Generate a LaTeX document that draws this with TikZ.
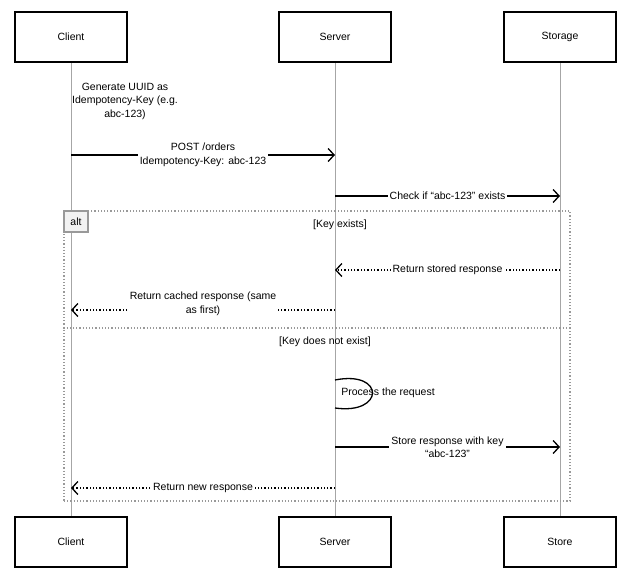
\documentclass[tikz,border=0pt]{standalone}
\usepackage{fontspec}
\setmainfont{Liberation Sans}
\usetikzlibrary{positioning, arrows.meta, calc}

\begin{document}
\begin{tikzpicture}[
        x=1pt, y=-1pt,
        font=\fontsize{10.5}{13.5}\selectfont,
        actor/.style={draw, line width=1.3pt, rectangle, minimum width=112pt, minimum height=50pt},
        life/.style={draw=black!35, thin},
        msg/.style={line width=1.3pt, -{Straight Barb[length=6pt,width=13pt]}},
        reply/.style={line width=1.3pt, dotted, -{Straight Barb[length=6pt,width=13pt]}},
        lbl/.style={fill=white, inner sep=2pt, align=center},
        frame/.style={draw=black!40, line width=1.2pt, dotted},
    ]
    \useasboundingbox (0,0) rectangle (630,581);

        % Draw the participants and their lifelines
        \foreach \name / \x / \top / \bot in {C/71/Client/Client, S/335/Server/Server, D/560/Storage/Store} {
            \draw[life] (\x,62) -- (\x,517);
            \node[actor, fill=white] (\name-top) at (\x,37) {\top};
            \node[actor, fill=white] (\name-bot) at (\x,542) {\bot};
        }
        \foreach \name / \x in {C/71, S/335, D/560}
            \foreach \y in {155,196,270,310,380,408,447,488}
                \coordinate (\name-\y) at (\x,\y);

        % Note on the client
        \node[align=center] (uuid) at (125,101) {Generate UUID as\\Idempotency-Key (e.g.\\abc-123)};

        % Requests
        \draw[msg] (C-155) -- (S-155) node[lbl, midway] {POST /orders\\Idempotency-Key: abc-123};
        \draw[msg] (S-196) -- (D-196) node[lbl, midway] {Check if ``abc-123'' exists};

        % alt frame
        \node[frame, rectangle, minimum width=506pt, minimum height=290pt] (alt) at (317,356) {};
        \node[draw=black!40, line width=1.2pt, fill=black!5, anchor=north west, minimum width=24pt, minimum height=21pt, inner sep=1pt] (tag) at (alt.north west) {alt};
        \node (exists) at (340,225) {[Key exists]};
        \draw[frame] (alt.west |- 0,328) coordinate (div-l) -- (alt.east |- 0,328) coordinate (div-r);
        \node (notexists) at (325,342) {[Key does not exist]};

        % Key exists
        \draw[reply] (D-270) -- (S-270) node[lbl, midway] {Return stored response};
        \draw[reply] (S-310) -- (C-310) node[lbl, midway, above=-8pt] {Return cached response (same\\as first)};

        % Key does not exist
        \draw[line width=1.3pt] (S-380) .. controls (385,370) and (385,415) .. (S-408);
        \node[lbl, fill=none] (proc) at (388,393) {Process the request};
        \draw[msg] (S-447) -- (D-447) node[lbl, midway] {Store response with key\\``abc-123''};
        \draw[reply] (S-488) -- (C-488) node[lbl, midway] {Return new response};
    \end{tikzpicture}
\end{document}
